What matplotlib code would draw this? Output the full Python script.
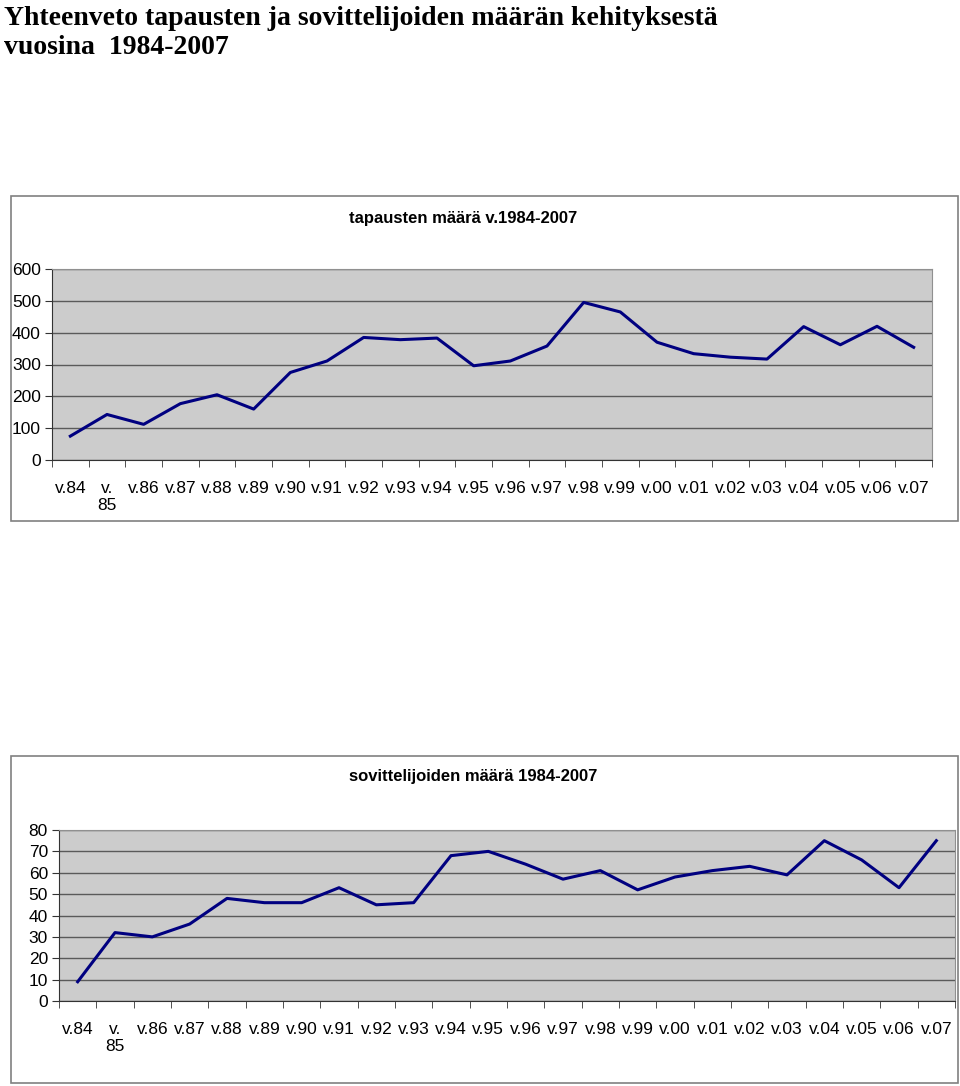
import numpy as np
import matplotlib.pyplot as plt
from matplotlib.patches import Rectangle

# 数据
vuodet = ['v.84', 'v.\n85', 'v.86', 'v.87', 'v.88', 'v.89', 'v.90', 'v.91', 'v.92',
          'v.93', 'v.94', 'v.95', 'v.96', 'v.97', 'v.98', 'v.99', 'v.00', 'v.01',
          'v.02', 'v.03', 'v.04', 'v.05', 'v.06', 'v.07']
tapaukset = [75, 143, 112, 177, 205, 160, 275, 311, 385, 378, 383, 296,
             311, 358, 495, 465, 370, 334, 323, 317, 419, 362, 420, 354]
sovittelijat = [9, 32, 30, 36, 48, 46, 46, 53, 45, 46, 68, 70,
                64, 57, 61, 52, 58, 61, 63, 59, 75, 66, 53, 75]

plt.rcParams['font.family'] = ['Liberation Sans', 'DejaVu Sans']

W, H = 960, 1086
fig = plt.figure(figsize=(W / 100, H / 100), dpi=100)


def px_axes(left, top, right, bottom):
    return fig.add_axes([left / W, 1 - bottom / H, (right - left) / W, (bottom - top) / H])


def box(left, top, right, bottom):
    fig.patches.append(Rectangle((left / W, 1 - bottom / H), (right - left) / W, (bottom - top) / H,
                                 transform=fig.transFigure, fill=False,
                                 edgecolor='#808080', linewidth=1.2))


def draw(ax, values, ymax, step):
    x = np.arange(len(values))
    ax.set_facecolor('#cccccc')
    ax.plot(x, values, color='#000080', linewidth=2.2)
    ax.set_xlim(-0.5, len(values) - 0.5)
    ax.set_ylim(0, ymax)
    ax.set_yticks(np.arange(0, ymax + 1, step))
    ax.set_xticks(x)
    ax.set_xticklabels(vuodet)
    ax.set_xticks(np.arange(-0.5, len(values), 1), minor=True)
    ax.tick_params(axis='x', which='major', length=0, pad=15, labelsize=12.5)
    ax.tick_params(axis='x', which='minor', length=5, direction='out', color='#333333')
    ax.tick_params(axis='y', length=5, direction='out', pad=3, labelsize=12.5, color='#333333')
    ax.grid(axis='y', color='#5a5a5a', linewidth=1)
    ax.set_axisbelow(True)
    for s in ['top', 'right']:
        ax.spines[s].set_color('#909090')
    for s in ['left', 'bottom']:
        ax.spines[s].set_color('#333333')


# 总标题
fig.text(4 / W, 1 - 25 / H, 'Yhteenveto tapausten ja sovittelijoiden määrän kehityksestä',
         family=['Liberation Serif', 'DejaVu Serif'], fontsize=20, fontweight='bold',
         va='baseline', ha='left')
fig.text(4 / W, 1 - 54 / H, 'vuosina  1984-2007',
         family=['Liberation Serif', 'DejaVu Serif'], fontsize=20, fontweight='bold',
         va='baseline', ha='left')

# 上图
box(11, 196, 958, 521)
ax1 = px_axes(52, 269, 932, 460)
draw(ax1, tapaukset, 600, 100)
fig.text(463 / W, 1 - 219 / H, 'tapausten määrä v.1984-2007', ha='center', va='center',
         fontsize=12, fontweight='bold')

# 下图
box(11, 756, 958, 1083)
ax2 = px_axes(59, 830, 955, 1001)
draw(ax2, sovittelijat, 80, 10)
fig.text(473 / W, 1 - 777 / H, 'sovittelijoiden määrä 1984-2007', ha='center', va='center',
         fontsize=12, fontweight='bold')

fig.savefig('out.png', dpi=100)
